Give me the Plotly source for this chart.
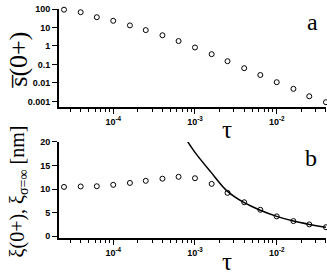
import plotly.graph_objects as go

tau = [2.5e-5, 4e-5, 6.3e-5, 1e-4, 1.6e-4, 2.5e-4, 4e-4, 6.3e-4, 1e-3,
       1.6e-3, 2.5e-3, 4e-3, 6.3e-3, 1e-2, 1.6e-2, 2.5e-2, 4e-2]
s0 = [92, 67, 36, 23, 13, 7.2, 3.8, 1.85, 0.83, 0.36, 0.15, 0.063,
      0.027, 0.011, 0.0048, 0.0019, 0.00091]
xi0 = [10.45, 10.55, 10.6, 10.9, 11.3, 11.75, 12.2, 12.6, 12.3, 11.1,
       9.2, 7.2, 5.6, 4.2, 3.2, 2.5, 1.9]
curve_tau = [8.05e-4, 1e-3, 1.55e-3, 2.5e-3, 4e-3, 6.3e-3, 1e-2, 1.6e-2, 2.5e-2, 4e-2]
curve_xi = [20.2, 17.8, 13.7, 9.5, 7.1, 5.5, 4.2, 3.2, 2.5, 1.9]

ytop_vals = [100, 10, 1, 0.1, 0.01, 0.001]
ytop_text = ["100", "10", "1", "0.1", "0.01", "0.001"]
ybot_vals = [0, 5, 10, 15, 20]
x_major = [1e-4, 1e-3, 1e-2]
x_major_text = ["10<sup>-4</sup>", "10<sup>-3</sup>", "10<sup>-2</sup>"]
x_minor = [m * 10 ** e for e in (-5, -4, -3, -2) for m in range(2, 10)]

fig = go.Figure()
mk = dict(symbol="circle-open", size=5, color="black", line=dict(width=1, color="black"))
fig.add_trace(go.Scatter(x=tau, y=s0, mode="markers", marker=mk, xaxis="x", yaxis="y", cliponaxis=False))
fig.add_trace(go.Scatter(x=tau, y=xi0, mode="markers", marker=mk, xaxis="x2", yaxis="y2", cliponaxis=False))
fig.add_trace(go.Scatter(x=curve_tau, y=curve_xi, mode="lines", line=dict(color="black", width=1.5, shape="spline"),
                         xaxis="x2", yaxis="y2"))

tickfont = dict(family="Liberation Sans", size=9, color="black", weight="bold")
xcommon = dict(type="log", range=[-4.665, -1.397], domain=[0.180, 0.997],
               showline=True, linecolor="black", linewidth=1.5, ticks="outside", ticklen=5,
               tickwidth=1.2, tickcolor="black", tickvals=x_major, ticktext=x_major_text,
               tickfont=tickfont, showgrid=False, zeroline=False,
               minor=dict(tickvals=x_minor, ticks="outside", ticklen=3, tickwidth=1, tickcolor="black", showgrid=False))

fig.update_layout(
    width=327, height=275, margin=dict(l=0, r=0, t=0, b=0),
    paper_bgcolor="white", plot_bgcolor="white", showlegend=False,
    xaxis=dict(anchor="y", **xcommon),
    xaxis2=dict(anchor="y2", **xcommon),
    yaxis=dict(type="log", range=[-3.30, 2], domain=[0.618, 0.985], anchor="x",
               showline=True, linecolor="black", linewidth=1.5, ticks="outside", ticklen=5,
               tickwidth=1.2, tickcolor="black", tickvals=ytop_vals, ticktext=ytop_text,
               tickfont=tickfont, showgrid=False, zeroline=False),
    yaxis2=dict(range=[-0.41, 20], domain=[0.127, 0.487], anchor="x2",
                showline=True, linecolor="black", linewidth=1.5, ticks="outside", ticklen=5,
                tickwidth=1.2, tickcolor="black", tickvals=ybot_vals,
                tickfont=tickfont, showgrid=False, zeroline=False),
)

serif = dict(family="Liberation Serif", color="black")
ann = [
    dict(text="s\u0305(0+)", x=0.055, y=1 - 56 / 275, textangle=-90, font=dict(size=26, **serif)),
    dict(text="\u03be(0+), \u03be<sub>\u03c3=\u221e</sub> [nm]", x=0.055, y=1 - 192 / 275, textangle=-90,
         font=dict(size=20, **serif)),
    dict(text="\u03c4", x=227 / 327, y=1 - 128 / 275, font=dict(size=25, **serif)),
    dict(text="\u03c4", x=227 / 327, y=1 - 264 / 275, font=dict(size=25, **serif)),
    dict(text="a", x=312 / 327, y=1 - 17 / 275, font=dict(size=24, **serif)),
    dict(text="b", x=311 / 327, y=1 - 158 / 275, font=dict(size=24, **serif)),
]
for a in ann:
    a.update(xref="paper", yref="paper", showarrow=False, xanchor="center", yanchor="middle")
fig.update_layout(annotations=ann)

fig.write_html("out.html", config={"displayModeBar": False},
               post_script="document.body.style.margin='0';document.body.style.padding='0';")
